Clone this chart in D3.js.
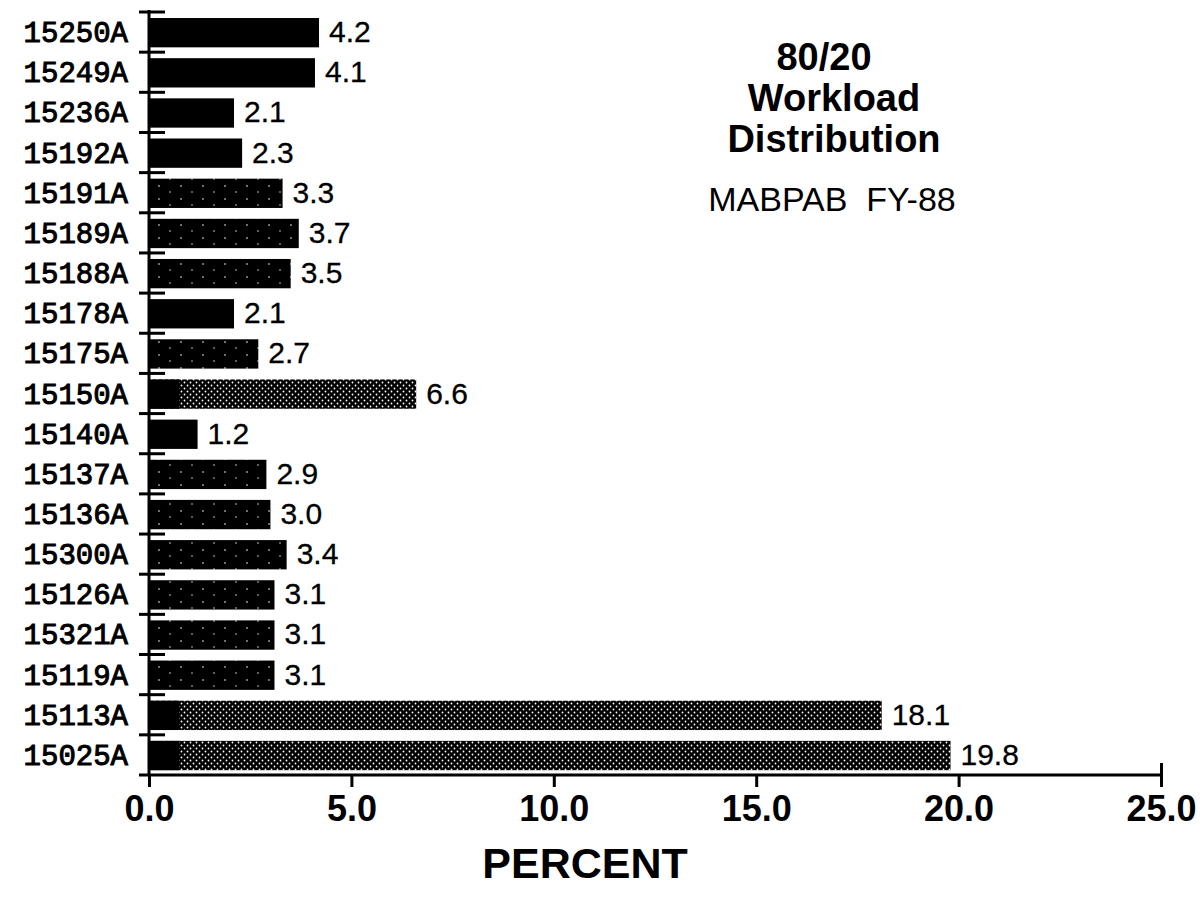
<!DOCTYPE html>
<html>
<head>
<meta charset="utf-8">
<script src="https://cdn.jsdelivr.net/npm/d3@7"></script>
<style>
  html, body { margin: 0; padding: 0; background: #fff; }
  svg { display: block; }
</style>
</head>
<body>
<svg id="chart" width="1204" height="911"></svg>
<script>
// Workload share per account, top to bottom as listed
const categories = ["15250A","15249A","15236A","15192A","15191A","15189A","15188A","15178A","15175A","15150A",
                    "15140A","15137A","15136A","15300A","15126A","15321A","15119A","15113A","15025A"];
const values = [4.2, 4.1, 2.1, 2.3, 3.3, 3.7, 3.5, 2.1, 2.7, 6.6,
                1.2, 2.9, 3.0, 3.4, 3.1, 3.1, 3.1, 18.1, 19.8];
const xTicks = [0, 5, 10, 15, 20, 25];
const titleLines = ["80/20", "Workload", "Distribution"];
const subtitle = "MABPAB  FY-88";
const xTitle = "PERCENT";

(function () {
const svg = d3.select("#chart");

const plotLeft = 149, plotRight = 1161, plotTop = 12, plotBottom = 775;

const x = d3.scaleLinear().domain([0, 25]).range([plotLeft, plotRight]);
const y = d3.scaleBand().domain(categories).range([plotTop, plotBottom]).padding(0);
const bw = y.bandwidth();

// Stipple fills: dense dot screen for the larger accounts, sparse specks elsewhere
const defs = svg.append("defs");
const dense = defs.append("pattern").attr("id", "dense").attr("patternUnits", "userSpaceOnUse")
  .attr("width", 6).attr("height", 6);
dense.append("rect").attr("width", 6).attr("height", 6).attr("fill", "#000");
dense.append("circle").attr("cx", 1.5).attr("cy", 1.5).attr("r", 0.9).attr("fill", "#fff");
dense.append("circle").attr("cx", 4.5).attr("cy", 4.5).attr("r", 0.9).attr("fill", "#fff");

const sparse = defs.append("pattern").attr("id", "sparse").attr("patternUnits", "userSpaceOnUse")
  .attr("width", 22).attr("height", 13);
sparse.append("rect").attr("width", 22).attr("height", 13).attr("fill", "#000");
sparse.append("circle").attr("cx", 5).attr("cy", 4).attr("r", 0.8).attr("fill", "#fff");
sparse.append("circle").attr("cx", 16).attr("cy", 10).attr("r", 0.7).attr("fill", "#fff");

const denseSet = new Set(["15150A", "15113A", "15025A"]);
const solidSet = new Set(["15250A", "15249A", "15236A", "15192A", "15178A", "15140A"]);

const data = categories.map((c, i) => ({ cat: c, val: values[i] }));

// Bars
const barG = svg.append("g");
barG.selectAll("rect.bar").data(data).join("rect")
  .attr("class", "bar")
  .attr("x", x(0))
  .attr("y", d => y(d.cat) + bw * 0.15)
  .attr("width", d => x(d.val) - x(0))
  .attr("height", bw * 0.73)
  .attr("fill", d => denseSet.has(d.cat) ? "url(#dense)" : (solidSet.has(d.cat) ? "#000" : "url(#sparse)"));

// Solid black lead-in on the dense bars
barG.selectAll("rect.lead").data(data.filter(d => denseSet.has(d.cat))).join("rect")
  .attr("class", "lead")
  .attr("x", x(0))
  .attr("y", d => y(d.cat) + bw * 0.15)
  .attr("width", 30)
  .attr("height", bw * 0.73)
  .attr("fill", "#000");

// Value labels
svg.append("g").selectAll("text").data(data).join("text")
  .attr("x", d => x(d.val) + 10)
  .attr("y", d => y(d.cat) + bw * 0.5 + 10)
  .attr("font-family", "Liberation Sans, Arial, sans-serif")
  .attr("font-size", 30)
  .attr("fill", "#000")
  .attr("stroke", "#000")
  .attr("stroke-width", 0.3)
  .text(d => d.val.toFixed(1));

// Category labels
svg.append("g").selectAll("text").data(data).join("text")
  .attr("x", 128)
  .attr("y", d => y(d.cat) + bw * 0.5 + 10)
  .attr("text-anchor", "end")
  .attr("font-family", "Liberation Mono, Courier New, monospace")
  .attr("font-size", 29)
  .attr("fill", "#000")
  .attr("stroke", "#000")
  .attr("stroke-width", 1)
  .text(d => d.cat);

// Y axis line with boundary ticks
const axisColor = "#000";
svg.append("line").attr("x1", plotLeft).attr("x2", plotLeft).attr("y1", plotTop - 2).attr("y2", plotBottom)
  .attr("stroke", axisColor).attr("stroke-width", 3);
const bounds = categories.map(c => y(c));
svg.append("g").selectAll("line").data(bounds).join("line")
  .attr("x1", plotLeft - 10).attr("x2", plotLeft + 16)
  .attr("y1", d => d).attr("y2", d => d)
  .attr("stroke", axisColor).attr("stroke-width", 3);

// X axis
const xAxis = d3.axisBottom(x).tickValues(xTicks).tickSizeInner(12).tickSizeOuter(0).tickFormat(d3.format(".1f"));
const gx = svg.append("g").attr("transform", `translate(0,${plotBottom})`).call(xAxis);
gx.select(".domain").attr("stroke-width", 3).attr("d", `M${plotLeft - 10},0H${plotRight}`);
gx.selectAll(".tick line").attr("stroke-width", 3);
gx.selectAll(".tick").filter(d => d === 25).select("line").attr("y1", -12);
gx.selectAll(".tick text")
  .attr("y", 46).attr("dy", 0)
  .attr("font-family", "Liberation Sans, Arial, sans-serif")
  .attr("font-weight", "bold")
  .attr("font-size", 36)
  .attr("fill", "#000");

// Axis title
svg.append("text").attr("x", 585).attr("y", 878)
  .attr("text-anchor", "middle")
  .attr("font-family", "Liberation Sans, Arial, sans-serif")
  .attr("font-weight", "bold")
  .attr("font-size", 43)
  .text(xTitle);

// Chart title block; the first line sits a little left of the others
const titleX = 834;
svg.append("g").selectAll("text").data(titleLines).join("text")
  .attr("x", (d, i) => i === 0 ? titleX - 10 : titleX)
  .attr("y", (d, i) => 70 + i * 41)
  .attr("text-anchor", "middle")
  .attr("font-family", "Liberation Sans, Arial, sans-serif")
  .attr("font-weight", "bold")
  .attr("font-size", 38)
  .text(d => d);

svg.append("text").attr("x", titleX - 2).attr("y", 211)
  .attr("text-anchor", "middle")
  .attr("font-family", "Liberation Sans, Arial, sans-serif")
  .attr("font-size", 34)
  .style("white-space", "pre")
  .text(subtitle);
})();
</script>
</body>
</html>
